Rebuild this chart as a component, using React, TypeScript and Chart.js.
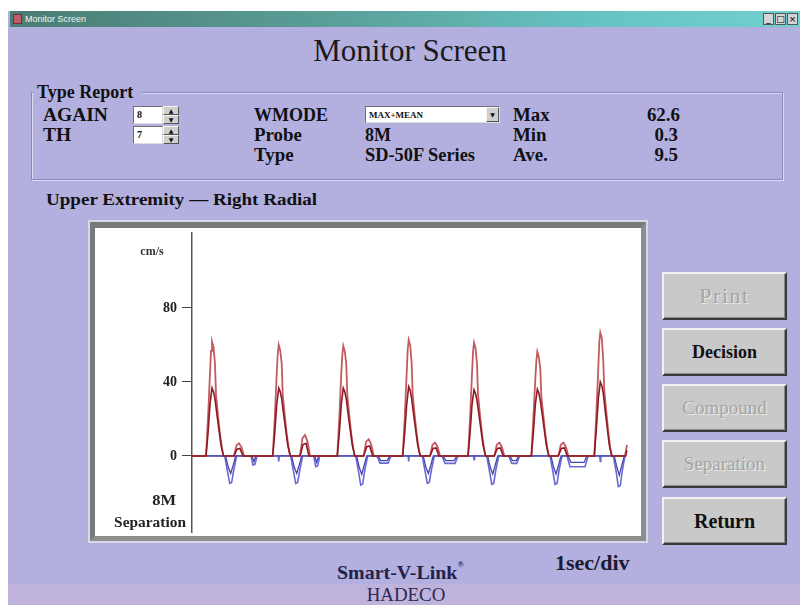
import React, { useEffect, useRef } from "react";
import { Chart, registerables } from "chart.js";
Chart.register(...registerables);

// ---- data (time in seconds, velocity in cm/s) ----
const yTicks = [0, 40, 80];
const yRange = [-41.1, 120.5];
const timeRange = [0, 6.636];

const meanTrace: [number, number][] = [
  [0, 0],
  [0.212, 0], [0.242, 12], [0.273, 28], [0.303, 36.7], [0.326, 34.7], [0.348, 31], [0.379, 22], [0.409, 14], [0.439, 6], [0.477, 0],
  [0.636, 0], [0.682, 3.7], [0.727, 4.1], [0.773, 0],
  [1.223, 0], [1.253, 12], [1.284, 28], [1.314, 36.7], [1.337, 34.7], [1.359, 31], [1.39, 22], [1.42, 14], [1.45, 6], [1.488, 0],
  [1.636, 0], [1.682, 6.2], [1.727, 6.8], [1.773, 0],
  [2.201, 0], [2.231, 12], [2.262, 28], [2.292, 36.7], [2.315, 34.7], [2.337, 31], [2.368, 22], [2.398, 14], [2.428, 6], [2.466, 0],
  [2.601, 0], [2.647, 5], [2.692, 5.4], [2.738, 0],
  [3.192, 0], [3.222, 12], [3.253, 28], [3.283, 37.5], [3.306, 35.5], [3.328, 31], [3.359, 22], [3.389, 14], [3.419, 6], [3.457, 0],
  [3.606, 0], [3.652, 4], [3.697, 4.3], [3.743, 0],
  [4.182, 0], [4.212, 12], [4.243, 28], [4.273, 35.7], [4.296, 33.7], [4.318, 30], [4.349, 22], [4.379, 14], [4.409, 6], [4.447, 0],
  [4.58, 0], [4.626, 4], [4.671, 4.3], [4.717, 0],
  [5.141, 0], [5.171, 12], [5.202, 28], [5.232, 36], [5.255, 34], [5.277, 30], [5.308, 22], [5.338, 14], [5.368, 6], [5.406, 0],
  [5.55, 0], [5.596, 4], [5.641, 4.3], [5.687, 0],
  [6.095, 0], [6.125, 14], [6.156, 31], [6.186, 40], [6.209, 38], [6.231, 34], [6.262, 24], [6.292, 15], [6.322, 6], [6.36, 0],
  [6.57, 0], [6.59, 3],
];

const maxTrace: [number, number][] = [
  [0, 0],
  [0.212, 0], [0.242, 20], [0.273, 45], [0.288, 56.8], [0.303, 61.8], [0.326, 58.8], [0.348, 50], [0.364, 33], [0.394, 22], [0.424, 12], [0.455, 4], [0.477, 0],
  [0.636, 0], [0.674, 5.8], [0.712, 6.8], [0.75, 4.8], [0.788, 0],
  [1.223, 0], [1.253, 20], [1.284, 45], [1.299, 55], [1.314, 60], [1.337, 57], [1.359, 50], [1.375, 33], [1.405, 22], [1.435, 12], [1.466, 4], [1.488, 0],
  [1.636, 0], [1.674, 9.6], [1.712, 11.3], [1.75, 7.9], [1.788, 0],
  [2.201, 0], [2.231, 20], [2.262, 45], [2.277, 54.5], [2.292, 59.5], [2.315, 56.5], [2.337, 50], [2.353, 33], [2.383, 22], [2.413, 12], [2.444, 4], [2.466, 0],
  [2.601, 0], [2.639, 7.7], [2.677, 9], [2.715, 6.3], [2.753, 0],
  [3.192, 0], [3.222, 20], [3.253, 45], [3.268, 57.7], [3.283, 62.7], [3.306, 59.7], [3.328, 50], [3.344, 33], [3.374, 22], [3.404, 12], [3.435, 4], [3.457, 0],
  [3.606, 0], [3.644, 6.1], [3.682, 7.2], [3.72, 5], [3.758, 0],
  [4.182, 0], [4.212, 20], [4.243, 45], [4.258, 56.3], [4.273, 61.3], [4.296, 58.3], [4.318, 50], [4.334, 33], [4.364, 22], [4.394, 12], [4.425, 4], [4.447, 0],
  [4.58, 0], [4.618, 6.1], [4.656, 7.2], [4.694, 5], [4.732, 0],
  [5.141, 0], [5.171, 20], [5.202, 42], [5.217, 51.4], [5.232, 56.4], [5.255, 53.4], [5.277, 47], [5.293, 32], [5.323, 22], [5.353, 12], [5.384, 4], [5.406, 0],
  [5.55, 0], [5.588, 6.1], [5.626, 7.2], [5.664, 5], [5.702, 0],
  [6.095, 0], [6.125, 22], [6.156, 48], [6.171, 61.7], [6.186, 66.7], [6.209, 63.7], [6.231, 52], [6.247, 35], [6.277, 24], [6.307, 13], [6.338, 4], [6.36, 0],
  [6.56, 0], [6.59, 6],
];

const revMaxTrace: [number, number][] = [
  [0, 0],
  [0.495, 0], [0.541, -9], [0.571, -14.8], [0.601, -14.3], [0.631, -8], [0.677, 0],
  [0.894, 0], [0.924, -4.9], [0.955, -4.4], [0.985, 0],
  [1.306, 0], [1.314, -3], [1.322, 0],
  [1.495, 0], [1.541, -9], [1.571, -14.8], [1.601, -14.3], [1.631, -8], [1.677, 0],
  [1.844, 0], [1.874, -5.8], [1.905, -5.3], [1.935, 0],
  [2.48, 0], [2.526, -9], [2.556, -15.7], [2.586, -15.2], [2.616, -8], [2.662, 0],
  [2.803, 0], [2.848, -3.9], [2.97, -3.9], [3.015, 0],
  [3.275, 0], [3.283, -3], [3.291, 0],
  [3.489, 0], [3.535, -9], [3.565, -14.8], [3.595, -14.3], [3.625, -8], [3.671, 0],
  [3.788, 0], [3.833, -4], [3.985, -4], [4.03, 0],
  [4.265, 0], [4.273, -2], [4.281, 0],
  [4.465, 0], [4.511, -9], [4.541, -15.3], [4.571, -14.8], [4.601, -8], [4.647, 0],
  [4.799, 0], [4.844, -4], [4.92, -4], [4.965, 0],
  [5.424, 0], [5.47, -9], [5.5, -15.3], [5.53, -14.8], [5.56, -8], [5.606, 0],
  [5.682, 0], [5.727, -5.8], [5.955, -5.8], [6.0, 0],
  [6.178, 0], [6.186, -3], [6.194, 0],
  [6.383, 0], [6.429, -9], [6.459, -16.6], [6.489, -16.1], [6.519, -8], [6.56, 0],
];

const revMeanTrace: [number, number][] = [
  [0, 0],
  [0.51, 0], [0.548, -6], [0.586, -9.5], [0.624, -5], [0.662, 0],
  [0.909, 0], [0.939, -3], [0.97, 0],
  [1.51, 0], [1.548, -6], [1.586, -9.5], [1.624, -5], [1.662, 0],
  [1.859, 0], [1.889, -3.5], [1.92, 0],
  [2.495, 0], [2.533, -6], [2.571, -10], [2.609, -5], [2.647, 0],
  [2.818, 0], [2.86, -2.5], [2.955, -2.5], [3.0, 0],
  [3.504, 0], [3.542, -6], [3.58, -9.5], [3.618, -5], [3.656, 0],
  [3.803, 0], [3.848, -2.5], [3.97, -2.5], [4.015, 0],
  [4.48, 0], [4.518, -6], [4.556, -9.8], [4.594, -5], [4.632, 0],
  [4.814, 0], [4.855, -2.5], [4.91, -2.5], [4.95, 0],
  [5.439, 0], [5.477, -6], [5.515, -9.8], [5.553, -5], [5.591, 0],
  [5.697, 0], [5.742, -3.5], [5.94, -3.5], [5.985, 0],
  [6.398, 0], [6.436, -6], [6.474, -10.5], [6.512, -5], [6.55, 0],
];

const SERIF = '"Liberation Serif", "Times New Roman", serif';

type TxtProps = {
  x: number; y: number; size: number; bold?: boolean; color?: string;
  anchor?: "left" | "center" | "right"; sx?: number; family?: string;
  children: React.ReactNode; extra?: React.CSSProperties;
};
function Txt({ x, y, size, bold, color = "#111", anchor = "left", sx = 1, family = SERIF, children, extra }: TxtProps) {
  const tx = anchor === "center" ? "-50%" : anchor === "right" ? "-100%" : "0";
  const origin = anchor === "center" ? "center center" : anchor === "right" ? "right center" : "left center";
  return (
    <div
      style={{
        position: "absolute", left: x, top: y, fontSize: size, fontWeight: bold ? 700 : 400,
        color, fontFamily: family, whiteSpace: "nowrap", lineHeight: 1,
        transform: `translate(${tx}, -50%) scaleX(${sx})`, transformOrigin: origin, ...extra,
      }}
    >
      {children}
    </div>
  );
}

function Box({ x, y, w, h, style, children }: { x: number; y: number; w: number; h: number; style?: React.CSSProperties; children?: React.ReactNode }) {
  return <div style={{ position: "absolute", left: x, top: y, width: w, height: h, boxSizing: "border-box", ...style }}>{children}</div>;
}

function Spinner({ x, y, value }: { x: number; y: number; value: string }) {
  return (
    <>
      <Box x={x} y={y} w={30} h={18} style={{ background: "#fff", border: "1px solid #707070", borderRightColor: "#ddd", borderBottomColor: "#ddd" }}>
        <Txt x={3} y={8} size={10} bold>{value}</Txt>
      </Box>
      <Box x={x + 30} y={y} w={16} h={9} style={{ background: "#cfcfcf", borderTop: "1px solid #f4f4f4", borderLeft: "1px solid #f4f4f4", borderBottom: "1px solid #555", borderRight: "1px solid #555" }}>
        <Txt x={7} y={4} size={6} anchor="center" family="DejaVu Sans">▲</Txt>
      </Box>
      <Box x={x + 30} y={y + 9} w={16} h={9} style={{ background: "#cfcfcf", borderTop: "1px solid #f4f4f4", borderLeft: "1px solid #f4f4f4", borderBottom: "1px solid #555", borderRight: "1px solid #555" }}>
        <Txt x={7} y={4} size={6} anchor="center" family="DejaVu Sans">▼</Txt>
      </Box>
    </>
  );
}

function Btn({ y, label, enabled, size, spacing = 0 }: { y: number; label: string; enabled: boolean; size: number; spacing?: number }) {
  return (
    <Box
      x={662} y={y} w={125} h={48}
      style={{
        background: "#c9c9c9", borderTop: "2px solid #f2f2f2", borderLeft: "2px solid #f2f2f2",
        borderBottom: "2px solid #3a3a3a", borderRight: "2px solid #3a3a3a",
        boxShadow: "inset -1px -1px 0 #8a8a8a",
        display: "flex", alignItems: "center", justifyContent: "center",
        fontFamily: SERIF, fontSize: size, fontWeight: enabled ? 700 : 400,
        color: enabled ? "#111" : "#a4a4a4", letterSpacing: spacing,
        textShadow: enabled ? "none" : "1px 1px 0 #ececec",
      }}
    >
      {label}
    </Box>
  );
}

export default function App() {
  const canvasRef = useRef<HTMLCanvasElement | null>(null);

  useEffect(() => {
    const canvas = canvasRef.current;
    if (!canvas) return;
    const toXY = (arr: [number, number][]) => arr.map(([x, y]) => ({ x, y }));
    const chart = new Chart(canvas, {
      type: "line",
      data: {
        datasets: [
          { label: "Mean", data: toXY(meanTrace), borderColor: "rgb(140,25,35)", borderWidth: 1.6, pointRadius: 0, tension: 0 },
          { label: "Max", data: toXY(maxTrace), borderColor: "rgb(195,90,95)", borderWidth: 1.8, pointRadius: 0, tension: 0 },
          { label: "Reverse Mean", data: toXY(revMeanTrace), borderColor: "rgb(70,70,175)", borderWidth: 1.3, pointRadius: 0, tension: 0 },
          { label: "Reverse Max", data: toXY(revMaxTrace), borderColor: "rgb(105,105,210)", borderWidth: 1.6, pointRadius: 0, tension: 0 },
        ],
      },
      options: {
        animation: false,
        responsive: false,
        events: [],
        layout: { padding: { top: 5, bottom: 3, right: 6, left: 0 } },
        plugins: { legend: { display: false }, tooltip: { enabled: false } },
        scales: {
          x: { type: "linear", min: timeRange[0], max: timeRange[1], display: false },
          y: {
            type: "linear",
            min: yRange[0],
            max: yRange[1],
            afterBuildTicks: (s: any) => { s.ticks = yTicks.map((v) => ({ value: v })); },
            afterFit: (s: any) => { s.width = 92; s.paddingTop = 0; s.paddingBottom = 0; },
            grid: { drawOnChartArea: false, drawTicks: true, tickLength: 10, color: "#444", lineWidth: 1 },
            border: { display: true, color: "#555", width: 1.5 },
            ticks: { font: { family: SERIF, size: 14, weight: "bold" }, color: "#222", padding: 5 },
          },
        },
      },
    } as any);
    return () => chart.destroy();
  }, []);

  return (
    <div style={{ position: "fixed", left: 0, top: 0, width: 800, height: 605, background: "#fff", overflow: "hidden" }}>
      {/* window body */}
      <Box x={8} y={11} w={792} h={594} style={{ background: "#b3b0e0" }} />
      <Box x={8} y={584} w={792} h={21} style={{ background: "#bfb2dd" }} />
      {/* title bar */}
      <Box x={10} y={11} w={790} h={16} style={{ background: "linear-gradient(to right, #4a7d74, #5a9e98 40%, #66c4c4 75%, #70d0d0)" }} />
      <Box x={13} y={14} w={9} h={10} style={{ background: "#c05a6a", border: "1px solid #703040" }} />
      <Txt x={25} y={19} size={9} color="#f4f4f4" family="Arial, 'Liberation Sans', sans-serif">Monitor Screen</Txt>
      {["_", "□", "×"].map((g, i) => (
        <Box key={g} x={763 + i * 12} y={13} w={11} h={12} style={{ background: "#d4d4d4", border: "1px solid #555", display: "flex", alignItems: "center", justifyContent: "center", fontSize: 9, fontFamily: "DejaVu Sans", color: "#000" }}>{g}</Box>
      ))}

      {/* big title */}
      <Txt x={410} y={50} size={31} anchor="center" color="#1a1a1a">Monitor Screen</Txt>

      {/* group box */}
      <Box x={31} y={92} w={752} h={88} style={{ border: "1px solid #8a88b8", boxShadow: "inset 1px 1px 0 #dcdaf4, 1px 1px 0 #dcdaf4" }} />
      <Box x={34} y={84} w={108} h={16} style={{ background: "#b3b0e0" }} />
      <Txt x={37} y={92} size={18} bold>Type Report</Txt>

      <Txt x={43} y={115} size={18} bold sx={1.08}>AGAIN</Txt>
      <Txt x={43} y={135} size={18} bold sx={1.08}>TH</Txt>
      <Spinner x={133} y={106} value="8" />
      <Spinner x={133} y={126} value="7" />

      <Txt x={254} y={115} size={18} bold>WMODE</Txt>
      <Txt x={254} y={135} size={18} bold sx={1.05}>Probe</Txt>
      <Txt x={254} y={155} size={18} bold sx={1.05}>Type</Txt>

      <Box x={365} y={106} w={135} h={17} style={{ background: "#fff", border: "1px solid #707070", borderRightColor: "#ddd", borderBottomColor: "#ddd" }}>
        <Txt x={3} y={7.5} size={9} bold>MAX+MEAN</Txt>
      </Box>
      <Box x={486} y={107} w={13} h={15} style={{ background: "#cfcfcf", borderTop: "1px solid #f4f4f4", borderLeft: "1px solid #f4f4f4", borderBottom: "1px solid #555", borderRight: "1px solid #555" }}>
        <Txt x={5.5} y={6.5} size={6} anchor="center" family="DejaVu Sans">▼</Txt>
      </Box>
      <Txt x={365} y={135} size={18} bold>8M</Txt>
      <Txt x={365} y={155} size={18} bold sx={1.02}>SD-50F Series</Txt>

      <Txt x={513} y={115} size={18} bold sx={1.05}>Max</Txt>
      <Txt x={513} y={135} size={18} bold sx={1.05}>Min</Txt>
      <Txt x={513} y={155} size={18} bold sx={1.05}>Ave.</Txt>

      <Txt x={680} y={115} size={18} bold anchor="right" sx={1.05}>62.6</Txt>
      <Txt x={678} y={135} size={18} bold anchor="right" sx={1.05}>0.3</Txt>
      <Txt x={678} y={155} size={18} bold anchor="right" sx={1.05}>9.5</Txt>

      <Txt x={46} y={200} size={16} bold sx={1.19}>Upper Extremity — Right Radial</Txt>

      {/* chart panel */}
      <Box x={90} y={222} w={556} h={319} style={{ background: "#fff", borderTop: "6px solid #7a7a7a", borderLeft: "5px solid #7a7a7a", borderBottom: "5px solid #8e8e8e", borderRight: "5px solid #8e8e8e", boxShadow: "0 0 0 2px #d8d8e8" }} />
      <canvas ref={canvasRef} width={536} height={307} style={{ position: "absolute", left: 100, top: 228, width: 536, height: 307 }} />
      <Txt x={152} y={251} size={12} bold anchor="center" color="#333">cm/s</Txt>
      <Txt x={176} y={500} size={15} bold anchor="right" sx={1.1} color="#222">8M</Txt>
      <Txt x={186} y={523} size={14} bold anchor="right" sx={1.1} color="#222">Separation</Txt>

      {/* buttons */}
      <Btn y={272} label="Print" enabled={false} size={22} spacing={1.5} />
      <Btn y={328} label="Decision" enabled size={18} />
      <Btn y={384} label="Compound" enabled={false} size={19} />
      <Btn y={440} label="Separation" enabled={false} size={19} />
      <Btn y={497} label="Return" enabled size={20} />

      {/* footer */}
      <Txt x={337} y={572} size={19} bold color="#23234a" sx={1.05}>
        Smart-V-Link<sup style={{ fontSize: 8, verticalAlign: "top", position: "relative", top: -2 }}>®</sup>
      </Txt>
      <Txt x={555} y={563} size={20} bold color="#1a1a30" sx={1.1}>1sec/div</Txt>
      <Txt x={406} y={595} size={18} anchor="center" color="#2a2a50" sx={1.05}>HADECO</Txt>
    </div>
  );
}
